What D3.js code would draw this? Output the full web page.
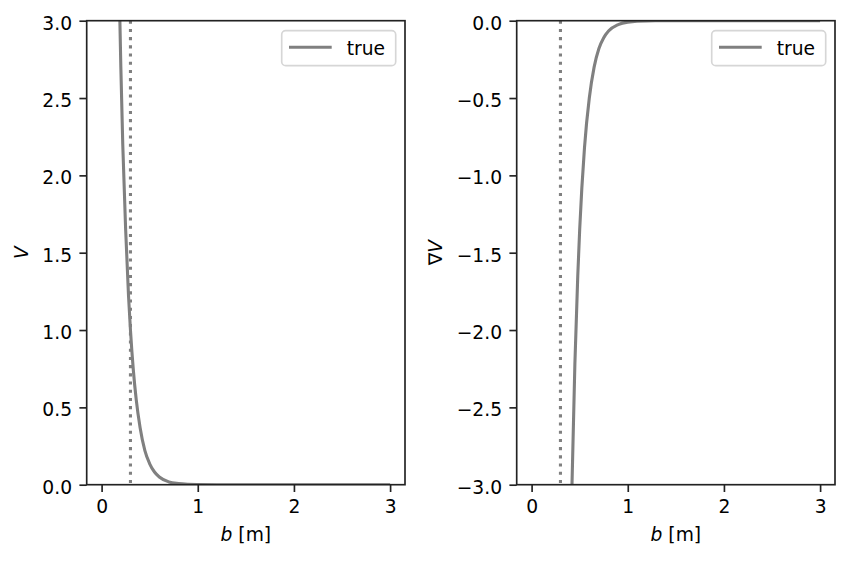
<!DOCTYPE html>
<html>
<head>
<meta charset="utf-8">
<script src="https://cdn.jsdelivr.net/npm/d3@7"></script>
<style>
  body { margin: 0; background: #fff; }
  text { font-family: "DejaVu Sans", sans-serif; fill: #000; }
</style>
</head>
<body>
<svg id="chart" width="849" height="561"></svg>
<script>
// values
const xTicks = [0, 1, 2, 3];
const vTicks = [0, 0.5, 1, 1.5, 2, 2.5, 3];
const gradTicks = [-3, -2.5, -2, -1.5, -1, -0.5, 0];
const cutoff = 0.3;

const bV   = [0.17, 0.18, 0.20, 0.22, 0.25, 0.28, 0.30, 0.33, 0.36, 0.40, 0.45, 0.50, 0.55, 0.60, 0.70, 0.80, 0.90, 1.0, 1.2, 1.5, 2.0, 2.5, 3.0];
const valV = [3.65, 3.3, 2.7, 2.2, 1.65, 1.22, 1.0, 0.74, 0.55, 0.37, 0.22, 0.135, 0.082, 0.05, 0.018, 0.007, 0.0025, 0.001, 0.0001, 0, 0, 0, 0];

const bGrad   = [0.39, 0.40, 0.42, 0.45, 0.48, 0.50, 0.55, 0.60, 0.65, 0.70, 0.75, 0.80, 0.90, 1.0, 1.2, 1.5, 2.0, 2.5, 3.0];
const valGrad = [-4.0, -3.6, -3.0, -2.22, -1.65, -1.35, -0.82, -0.50, -0.30, -0.18, -0.11, -0.067, -0.025, -0.009, -0.001, 0, 0, 0, 0];

const fs = 18.7;
const svg = d3.select("#chart");

const x = d3.scaleLinear().domain([-0.155, 3.155]);

function panel(opts) {
  const left = opts.left, right = left + 318.3, top = 20.7, bottom = 484.7;
  const xs = x.copy().range([left, right]);
  const ys = d3.scaleLinear().domain(opts.yDomain).range([bottom, top]);
  const g = svg.append("g");

  const clipId = "clip" + opts.id;
  g.append("clipPath").attr("id", clipId)
    .append("rect")
    .attr("x", left).attr("y", top)
    .attr("width", right - left).attr("height", bottom - top);

  // dotted cutoff
  g.append("line")
    .attr("clip-path", `url(#${clipId})`)
    .attr("x1", xs(cutoff)).attr("x2", xs(cutoff))
    .attr("y1", top).attr("y2", bottom)
    .attr("stroke", "#808080")
    .attr("stroke-width", 3.1)
    .attr("stroke-dasharray", "3.1,5.1");

  const line = d3.line()
    .x(d => xs(d[0]))
    .y(d => ys(d[1]))
    .curve(d3.curveMonotoneX);

  g.append("path")
    .datum(d3.zip(opts.bs, opts.vals))
    .attr("clip-path", `url(#${clipId})`)
    .attr("fill", "none")
    .attr("stroke", "#808080")
    .attr("stroke-width", 3.1)
    .attr("d", line);

  // axes
  const xAxis = d3.axisBottom(xs).tickValues(xTicks).tickFormat(d3.format("d"))
    .tickSize(7.3).tickPadding(7.3);
  const yAxis = d3.axisLeft(ys).tickValues(opts.yTicks).tickFormat(d3.format(".1f"))
    .tickSize(7.3).tickPadding(7.3);

  g.append("g")
    .attr("transform", `translate(0,${bottom})`)
    .call(xAxis)
    .call(a => a.select(".domain").remove())
    .call(a => a.selectAll("line").attr("stroke", "#222").attr("stroke-width", 1.67))
    .call(a => a.selectAll("text").attr("font-size", fs).attr("font-family", "DejaVu Sans")
      .attr("fill", "#000").attr("dy", null).attr("y", 28.3));

  g.append("g")
    .attr("transform", `translate(${left},0)`)
    .call(yAxis)
    .call(a => a.select(".domain").remove())
    .call(a => a.selectAll("line").attr("stroke", "#222").attr("stroke-width", 1.67))
    .call(a => a.selectAll("text").attr("font-size", fs).attr("font-family", "DejaVu Sans")
      .attr("fill", "#000").attr("dy", "0.45em"));

  // frame
  g.append("rect")
    .attr("x", left).attr("y", top)
    .attr("width", right - left).attr("height", bottom - top)
    .attr("fill", "none")
    .attr("stroke", "#222")
    .attr("stroke-width", 1.67);

  // x label
  const xl = g.append("text")
    .attr("x", (left + right) / 2).attr("y", 541)
    .attr("text-anchor", "middle")
    .attr("font-size", fs);
  xl.append("tspan").attr("font-style", "italic").text("b");
  xl.append("tspan").text(" [m]");

  // y label
  const yl = g.append("text")
    .attr("transform", `translate(${opts.ylabelX},${(top + bottom) / 2}) rotate(-90)`)
    .attr("text-anchor", "middle")
    .attr("font-size", fs);
  if (opts.nabla) yl.append("tspan").text("\u2207");
  yl.append("tspan").attr("font-style", "italic").text("V");

  // legend
  const lx = right - 123.3, ly = 30.7;
  const lg = g.append("g");
  lg.append("rect")
    .attr("x", lx).attr("y", ly)
    .attr("width", 114).attr("height", 35)
    .attr("rx", 4)
    .attr("fill", "#fff").attr("fill-opacity", 0.8)
    .attr("stroke", "#d6d6d6").attr("stroke-width", 1.67);
  lg.append("line")
    .attr("x1", lx + 7.3).attr("x2", lx + 50)
    .attr("y1", ly + 16.6).attr("y2", ly + 16.6)
    .attr("stroke", "#808080").attr("stroke-width", 3.1);
  lg.append("text")
    .attr("x", lx + 65).attr("y", ly + 23.8)
    .attr("font-size", fs)
    .text("true");
}

panel({ id: 1, left: 86.7, yDomain: [0, 3], yTicks: vTicks, bs: bV, vals: valV, ylabelX: 28.3, nabla: false });
panel({ id: 2, left: 516.7, yDomain: [-3, 0], yTicks: gradTicks, bs: bGrad, vals: valGrad, ylabelX: 441.7, nabla: true });
</script>
</body>
</html>
